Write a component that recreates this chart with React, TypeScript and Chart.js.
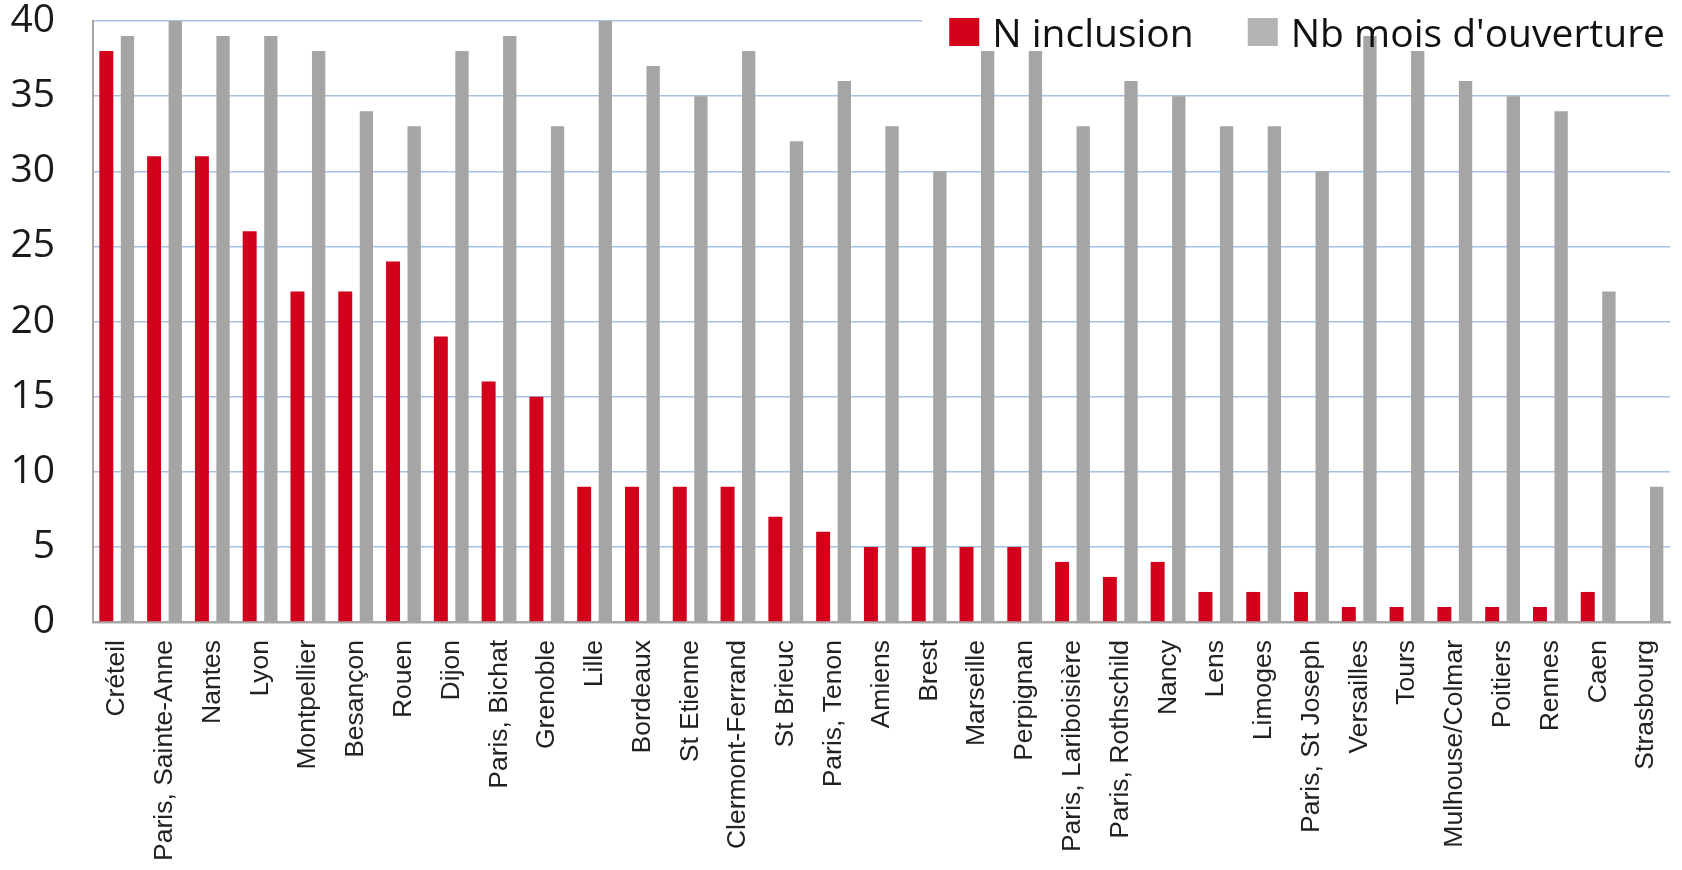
import React, { useEffect, useRef } from 'react';
import { Chart, registerables } from 'chart.js';

Chart.register(...registerables);

const categories = [
  'Créteil', 'Paris, Sainte-Anne', 'Nantes', 'Lyon', 'Montpellier', 'Besançon', 'Rouen', 'Dijon',
  'Paris, Bichat', 'Grenoble', 'Lille', 'Bordeaux', 'St Etienne', 'Clermont-Ferrand', 'St Brieuc',
  'Paris, Tenon', 'Amiens', 'Brest', 'Marseille', 'Perpignan', 'Paris, Lariboisière',
  'Paris, Rothschild', 'Nancy', 'Lens', 'Limoges', 'Paris, St Joseph', 'Versailles', 'Tours',
  'Mulhouse/Colmar', 'Poitiers', 'Rennes', 'Caen', 'Strasbourg',
];

const nInclusion = [
  38, 31, 31, 26, 22, 22, 24, 19, 16, 15, 9, 9, 9, 9, 7, 6, 5, 5, 5, 5, 4, 3, 4, 2, 2, 2, 1, 1, 1, 1, 1, 2, 0,
];

const nbMoisOuverture = [
  39, 40, 39, 39, 38, 34, 33, 38, 39, 33, 40, 37, 35, 38, 32, 36, 33, 30, 38, 38, 33, 36, 35, 33, 33, 30,
  39, 38, 36, 35, 34, 22, 9,
];

const seriesLabels = ['N inclusion', "Nb mois d'ouverture"];
const seriesColors = ['#D2001A', '#A5A5A5'];
const legendSwatchColors = ['#D2001A', '#B4B4B4'];

const yMin = 0;
const yMax = 40;
const yStep = 5;

const LEGEND_FONT = '39px "Open Sans"';

const overlayLegend = {
  id: 'overlayLegend',
  beforeDatasetsDraw(chart: any) {
    const ctx = chart.ctx;
    ctx.save();
    ctx.fillStyle = '#ffffff';
    ctx.fillRect(922, 0, chart.width - 922, 50);
    ctx.restore();
  },
  afterDatasetsDraw(chart: any) {
    const ctx = chart.ctx;
    ctx.save();
    ctx.font = LEGEND_FONT;
    ctx.textBaseline = 'alphabetic';
    ctx.textAlign = 'left';
    const labels = chart.data.datasets.map((d: any) => d.label);
    const widths = labels.map((l: string) => ctx.measureText(l).width);
    const swatch = 30;
    const gapSwatchText = 13;
    const gapItems = 54;
    let x = 1665;
    const positions: number[] = [];
    for (let i = labels.length - 1; i >= 0; i--) {
      x -= widths[i];
      positions[i] = x;
      x -= gapSwatchText + swatch + gapItems;
    }
    labels.forEach((l: string, i: number) => {
      const tx = positions[i];
      ctx.fillStyle = legendSwatchColors[i];
      ctx.fillRect(tx - gapSwatchText - swatch, 18, swatch, 28);
      ctx.fillStyle = '#111111';
      ctx.fillText(l, tx, 47);
    });
    ctx.restore();
  },
};

export default function App() {
  const canvasRef = useRef<HTMLCanvasElement | null>(null);

  useEffect(() => {
    const canvas = canvasRef.current;
    if (!canvas) return;
    const chart = new Chart(canvas, {
      type: 'bar',
      data: {
        labels: categories,
        datasets: [
          {
            label: seriesLabels[0],
            data: nInclusion,
            backgroundColor: seriesColors[0],
            categoryPercentage: 0.885,
            barPercentage: 0.66,
          },
          {
            label: seriesLabels[1],
            data: nbMoisOuverture,
            backgroundColor: seriesColors[1],
            categoryPercentage: 0.885,
            barPercentage: 0.63,
          },
        ],
      },
      options: {
        responsive: false,
        animation: false,
        layout: { padding: { top: 21, right: 12, left: 0, bottom: 0 } },
        plugins: {
          legend: { display: false },
          tooltip: { enabled: false },
          title: { display: false },
        },
        scales: {
          x: {
            grid: { display: false, drawTicks: false },
            border: { display: true, color: '#A6A6A6', width: 2.5 },
            ticks: {
              autoSkip: false,
              maxRotation: 90,
              minRotation: 90,
              padding: 18,
              color: '#222222',
              font: { family: '"Liberation Sans", Arial, sans-serif', size: 26.5, lineHeight: 1 },
            },
            afterFit(scale: any) {
              scale.height = 248;
              scale.paddingLeft = 0;
              scale.paddingRight = 0;
            },
          },
          y: {
            min: yMin,
            max: yMax,
            ticks: {
              stepSize: yStep,
              padding: 38,
              color: '#1a1a1a',
              font: { family: '"Open Sans", Lato, sans-serif', size: 39, lineHeight: 1 },
            },
            grid: {
              drawTicks: false,
              color: '#A3C2E4',
              lineWidth: 1.5,
            },
            border: { display: true, color: '#A6A6A6', width: 2 },
            afterFit(scale: any) {
              scale.width = 93;
              scale.paddingTop = 0;
              scale.paddingBottom = 0;
            },
          },
        },
      },
      plugins: [overlayLegend],
    });
    return () => chart.destroy();
  }, []);

  return (
    <div style={{ position: 'fixed', left: 0, top: 0, width: 1682, height: 870, background: '#ffffff' }}>
      <canvas ref={canvasRef} width={1682} height={870} style={{ width: 1682, height: 870, display: 'block' }} />
    </div>
  );
}
